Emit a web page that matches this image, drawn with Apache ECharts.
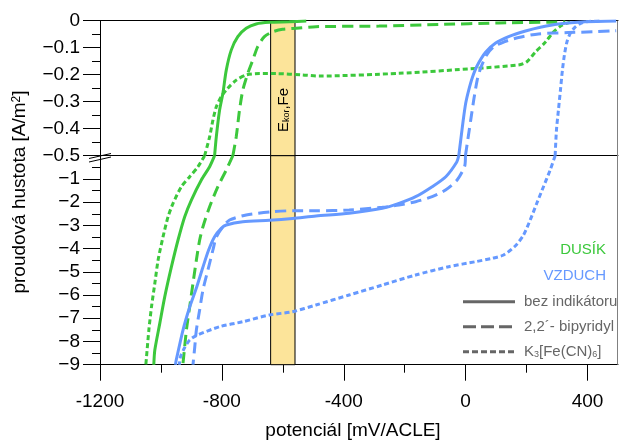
<!DOCTYPE html>
<html><head><meta charset="utf-8">
<script src="https://cdn.jsdelivr.net/npm/echarts@6/dist/echarts.min.js"></script>
<style>html,body{margin:0;padding:0;background:#fff}#c{width:619px;height:441px}</style>
</head><body><div id="c"></div>
<script>
// ---- data (potential mV/ACLE, current density A/m2) ----
// upper panel: 0 .. -0.5 ; lower panel: axis value 0 (= -0.5 at break) .. -9
const xTicks = [-1200, -800, -400, 0, 400];
const xMinorTicks = [-1000, -600, -200, 200];
const band = [-640, -560];

const n2PlainUp = [[-823.9,-0.5],[-818.3,-0.43],[-807.5,-0.331],[-796.7,-0.269],[-785.6,-0.183],[-769.3,-0.109],[-747.7,-0.059],[-720.2,-0.028],[-687.5,-0.012],[-644,-0.006],[-578.6,-0.004],[-523,-0.001]];
const n2PlainLow = [[-823.9,0],[-840.2,-0.474],[-867.4,-1.047],[-900.1,-1.908],[-922,-2.627],[-943.9,-3.63],[-965.5,-4.78],[-987.4,-6.07],[-1003.8,-7.22],[-1020.1,-8.37],[-1023.4,-9]];

const n2BipyUp = [[-764,-0.5],[-752.9,-0.43],[-742.1,-0.331],[-731.3,-0.257],[-715,-0.195],[-698.6,-0.146],[-682.3,-0.096],[-660.4,-0.059],[-633.2,-0.041],[-600.5,-0.032],[-556.7,-0.028],[-491.3,-0.022],[-284,-0.02],[-88,-0.014],[108,-0.0085],[327,-0.005]];
const n2BipyLow = [[-764,0],[-785.6,-0.616],[-813.1,-1.335],[-840.2,-2.196],[-862.1,-3.058],[-872.9,-3.63],[-883.7,-4.49],[-894.9,-5.5],[-905.6,-6.5],[-916.4,-7.51],[-927.6,-8.94],[-928.5,-9]];

const n2FeUp = [[-856.6,-0.5],[-840.2,-0.43],[-829.4,-0.368],[-818.3,-0.319],[-802,-0.281],[-780.4,-0.25],[-752.9,-0.22],[-720.2,-0.201],[-676.7,-0.196],[-622.1,-0.196],[-535.1,-0.201],[-480.5,-0.205],[-218.8,-0.195],[42.8,-0.176],[173.7,-0.164],[199.8,-0.153],[229.3,-0.116],[262,-0.079],[288.1,-0.042],[314.3,-0.018],[343.7,-0.005]];
const n2FeLow = [[-856.6,0],[-878.5,-0.474],[-905.6,-0.904],[-932.8,-1.335],[-960.3,-2.05],[-976.6,-2.627],[-993,-3.488],[-1009.3,-4.49],[-1020.1,-5.5],[-1030.9,-6.5],[-1039.7,-7.51],[-1047.3,-8.66],[-1049.6,-9]];

const airPlainUp = [[-22.6,-0.5],[-16.1,-0.442],[-7.9,-0.368],[0.3,-0.305],[10.1,-0.257],[21.6,-0.212],[37.3,-0.168],[64.8,-0.118],[98.4,-0.083],[140.9,-0.059],[196.5,-0.038],[248.9,-0.023],[304.5,-0.012],[391.8,-0.004],[494,-0.001]];
const airPlainLow = [[-22.6,0],[-29.1,-0.271],[-65.1,-0.904],[-109.9,-1.335],[-164.2,-1.766],[-218.8,-2.05],[-273.4,-2.265],[-382.4,-2.48],[-491.3,-2.596],[-567.8,-2.704],[-644,-2.782],[-731.3,-2.842],[-785.6,-2.985],[-802,-3.127],[-823.9,-3.488],[-843.5,-4.061],[-863.1,-4.836],[-883.7,-5.698],[-905.6,-6.516],[-927.6,-7.506],[-949.8,-8.798],[-952.4,-9]];

const airBipyUp = [[-0.7,-0.5],[6.9,-0.442],[16.7,-0.368],[26.5,-0.294],[37.9,-0.22],[49.4,-0.175],[69,-0.127],[91.9,-0.097],[124.6,-0.079],[173.7,-0.062],[239.1,-0.049],[337.2,-0.044],[419,-0.041],[494,-0.037]];
const airBipyLow = [[-0.7,0],[-3,-0.444],[-28,-1.047],[-66.1,-1.477],[-109.9,-1.766],[-164.2,-1.981],[-218.8,-2.123],[-273.4,-2.222],[-382.4,-2.338],[-491.3,-2.369],[-567.8,-2.369],[-633.2,-2.412],[-720.2,-2.554],[-774.8,-2.769],[-796.7,-3.058],[-818.3,-3.501],[-829.4,-4.061],[-845.8,-4.922],[-862.1,-5.783],[-873,-6.645],[-883.7,-7.506],[-889,-8.238],[-894.8,-9]];

const airFeUp = [[293.7,-0.5],[298,-0.405],[304.5,-0.331],[311.1,-0.257],[317.6,-0.183],[324.1,-0.127],[332.3,-0.079],[343.7,-0.046],[360.1,-0.023],[379.7,-0.0085],[402.6,-0.003],[440,-0.001]];
const airFeLow = [[293.7,0],[277.4,-0.616],[255.4,-1.335],[233.5,-2.05],[211.9,-2.769],[190,-3.415],[162.8,-3.889],[124.6,-4.277],[86.3,-4.419],[32,-4.565],[-55.3,-4.78],[-164.2,-5.138],[-273.4,-5.569],[-382.4,-6.0],[-491.3,-6.43],[-567.8,-6.718],[-644,-6.86],[-731.3,-7.149],[-807.5,-7.364],[-883.7,-7.743],[-905.6,-7.937],[-922,-8.26],[-935.1,-8.626],[-940,-9]];

// ---- styling ----
const GREEN = '#3cc83c', BLUE = '#6699ff', GRAY = '#666666';
const FONT = '"Liberation Sans", Arial, sans-serif';
const DASH = [11, 6], DOT = [5, 3];

function line(data, color, type, upper) {
  return {
    type: 'line', data: data, xAxisIndex: upper ? 0 : 1, yAxisIndex: upper ? 0 : 1,
    symbol: 'none', smooth: 0.25, clip: true, silent: true,
    lineStyle: { color: color, width: 3, type: type, cap: 'butt' }
  };
}
function bandSeries(upper) {
  return {
    type: 'line', data: [], xAxisIndex: upper ? 0 : 1, yAxisIndex: upper ? 0 : 1, silent: true,
    markArea: { silent: true,
      itemStyle: { color: '#fce49a', borderColor: '#000', borderWidth: 1 },
      data: [[{ xAxis: band[0] }, { xAxis: band[1] }]] }
  };
}
const minus = s => s.replace('-', '\u2212');

const yAxisCommon = {
  axisLine: { show: true, onZero: false, lineStyle: { color: '#000', width: 1 } },
  axisTick: { show: true, length: 17, lineStyle: { color: '#000' } },
  minorTick: { show: true, splitNumber: 2, length: 8, lineStyle: { color: '#000' } },
  splitLine: { show: false }
};
const yLabel = { color: '#000', fontSize: 19, fontFamily: FONT, margin: 20 };
const xLine = { show: true, onZero: false, lineStyle: { color: '#000' } };

const chart = echarts.init(document.getElementById('c'), null, { renderer: 'canvas' });
chart.setOption({
  animation: false,
  backgroundColor: '#fff',
  grid: [
    { left: 100, width: 518, top: 20.7, height: 135 },
    { left: 100, width: 518, top: 155.7, height: 209 }
  ],
  xAxis: [
    { gridIndex: 0, type: 'value', min: -1200, max: 500, position: 'top',
      axisLine: xLine, axisTick: { show: false }, axisLabel: { show: false }, splitLine: { show: false } },
    { gridIndex: 1, type: 'value', min: -1200, max: 500, interval: 400, position: 'bottom',
      axisLine: xLine,
      axisTick: { show: true, length: 16, customValues: xTicks, lineStyle: { color: '#000' } },
      axisLabel: { show: true, customValues: xTicks, formatter: v => String(v), color: '#000', fontSize: 19, fontFamily: FONT, margin: 28 },
      splitLine: { show: false } },
    { gridIndex: 1, type: 'value', min: -1200, max: 500, position: 'top',
      axisLine: xLine, axisTick: { show: false }, axisLabel: { show: false }, splitLine: { show: false } },
    { gridIndex: 1, type: 'value', min: -1200, max: 500, position: 'bottom',
      axisLine: { show: false, onZero: false }, axisTick: { show: true, length: 8, customValues: xMinorTicks, lineStyle: { color: '#000' } },
      axisLabel: { show: false }, splitLine: { show: false } }
  ],
  yAxis: [
    Object.assign({ gridIndex: 0, type: 'value', min: -0.5, max: 0, interval: 0.1,
      axisLabel: Object.assign({ formatter: v => Math.abs(v) < 1e-9 ? '0' : minus(v.toFixed(1)) }, yLabel) }, yAxisCommon),
    Object.assign({ gridIndex: 1, type: 'value', min: -9, max: 0, interval: 1,
      axisLabel: Object.assign({ formatter: v => Math.abs(v) < 1e-9 ? '' : minus(String(v)) }, yLabel) }, yAxisCommon)
  ],
  series: [
    bandSeries(true), bandSeries(false),
    line(n2PlainUp, GREEN, 'solid', true), line(n2PlainLow, GREEN, 'solid', false),
    line(n2BipyUp, GREEN, DASH, true), line(n2BipyLow, GREEN, DASH, false),
    line(n2FeUp, GREEN, DOT, true), line(n2FeLow, GREEN, DOT, false),
    line(airPlainUp, BLUE, 'solid', true), line(airPlainLow, BLUE, 'solid', false),
    line(airBipyUp, BLUE, DASH, true), line(airBipyLow, BLUE, DASH, false),
    line(airFeUp, BLUE, DOT, true), line(airFeLow, BLUE, DOT, false)
  ],
  graphic: [
    { type: 'line', shape: { x1: 617.5, y1: 20.7, x2: 617.5, y2: 364.7 }, style: { stroke: '#808080', lineWidth: 1 }, z: 100 },
    { type: 'line', shape: { x1: 89, y1: 158.5, x2: 111, y2: 153.5 }, style: { stroke: '#000', lineWidth: 1 }, z: 100 },
    { type: 'line', shape: { x1: 89, y1: 162, x2: 111, y2: 157 }, style: { stroke: '#000', lineWidth: 1 }, z: 100 },
    { type: 'text', x: 284, y: 110, rotation: Math.PI / 2, z: 100,
      style: { text: '{a|E}{b|kor}{a|,Fe}', align: 'center', verticalAlign: 'middle',
        rich: { a: { fontSize: 15, fontFamily: FONT, fill: '#000' }, b: { fontSize: 9, fontFamily: FONT, fill: '#000', verticalAlign: 'bottom', padding: [5, 0, 0, 0] } } } },
    { type: 'text', x: 353, y: 431, z: 100,
      style: { text: 'potenciál [mV/ACLE]', fontSize: 19, fontFamily: FONT, fill: '#000', align: 'center', verticalAlign: 'middle' } },
    { type: 'text', x: 20, y: 192, rotation: Math.PI / 2, z: 100,
      style: { text: '{a|proudová hustota [A/m}{s|2}{a|]}', align: 'center', verticalAlign: 'middle',
        rich: { a: { fontSize: 19, fontFamily: FONT, fill: '#000' }, s: { fontSize: 12, fontFamily: FONT, fill: '#000', verticalAlign: 'top', padding: [0, 0, 6, 0] } } } },
    { type: 'text', x: 606, y: 250, z: 100, style: { text: 'DUSÍK', fontSize: 15, fontFamily: FONT, fill: GREEN, align: 'right', verticalAlign: 'middle' } },
    { type: 'text', x: 606, y: 276, z: 100, style: { text: 'VZDUCH', fontSize: 15, fontFamily: FONT, fill: BLUE, align: 'right', verticalAlign: 'middle' } },
    { type: 'line', shape: { x1: 463, y1: 301.7, x2: 515, y2: 301.7 }, style: { stroke: GRAY, lineWidth: 3 }, z: 100 },
    { type: 'line', shape: { x1: 463, y1: 326.7, x2: 515, y2: 326.7 }, style: { stroke: GRAY, lineWidth: 3, lineDash: [13, 5] }, z: 100 },
    { type: 'line', shape: { x1: 463, y1: 351.7, x2: 515, y2: 351.7 }, style: { stroke: GRAY, lineWidth: 3, lineDash: [6, 3] }, z: 100 },
    { type: 'text', x: 524, y: 301.7, z: 100, style: { text: 'bez indikátoru', fontSize: 15, fontFamily: FONT, fill: GRAY, verticalAlign: 'middle' } },
    { type: 'text', x: 524, y: 326.7, z: 100, style: { text: '2,2´- bipyridyl', fontSize: 15, fontFamily: FONT, fill: GRAY, verticalAlign: 'middle' } },
    { type: 'text', x: 524, y: 351.7, z: 100,
      style: { text: '{a|K}{s|3}{a|[Fe(CN)}{s|6}{a|]}', verticalAlign: 'middle',
        rich: { a: { fontSize: 15, fontFamily: FONT, fill: GRAY }, s: { fontSize: 9, fontFamily: FONT, fill: GRAY, verticalAlign: 'bottom', padding: [5, 0, 0, 0] } } } }
  ]
});
</script>
</body></html>
